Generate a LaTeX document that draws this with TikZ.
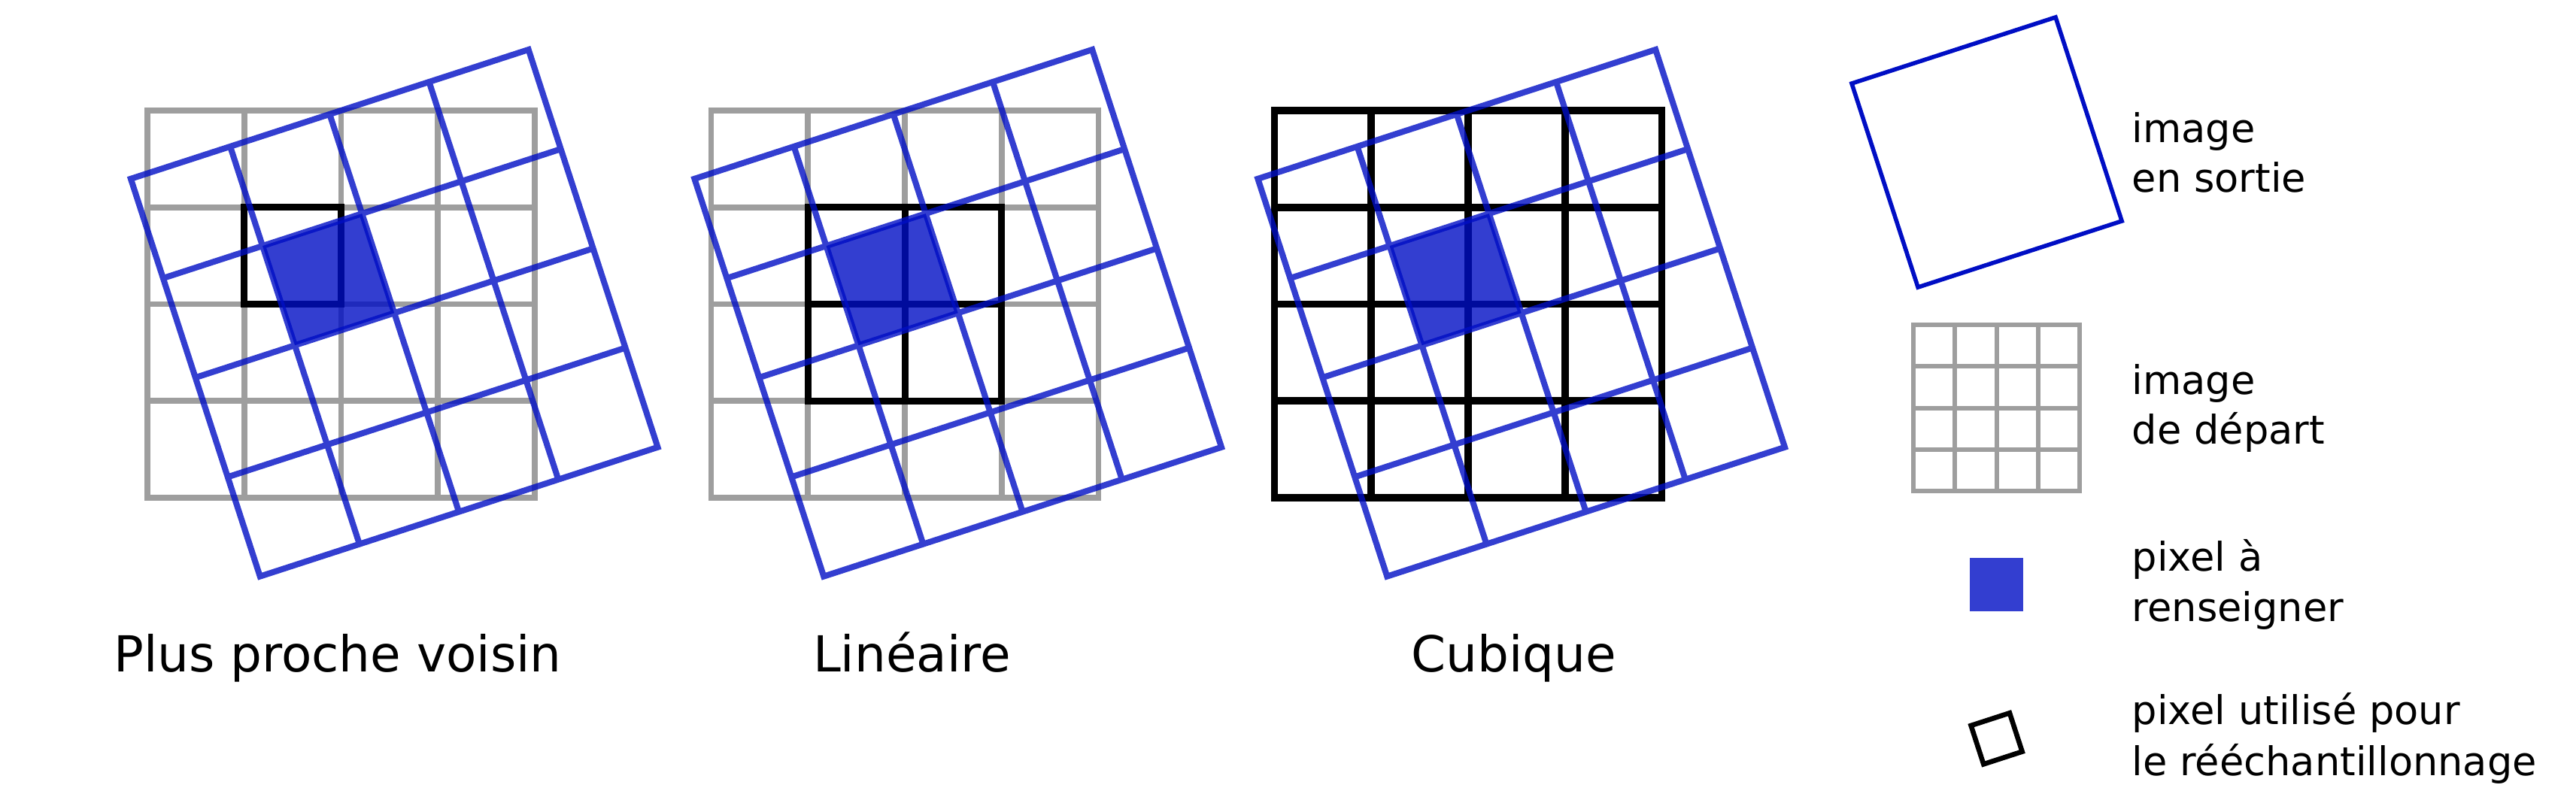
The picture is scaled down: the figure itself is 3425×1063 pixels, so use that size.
\documentclass[tikz,border=0pt]{standalone}
\usepackage{fontspec}
\setmainfont{DejaVu Sans}
\definecolor{outblue}{RGB}{0,14,196}
\definecolor{srcgray}{RGB}{158,158,158}
\tikzset{
  srcgrid/.style={draw=srcgray, line width=1.95pt},
  usedpx/.style={draw=black, line width=2.25pt},
  usedall/.style={draw=black, line width=2.4pt},
  outgrid/.style={draw=outblue, draw opacity=0.8, line width=2pt},
  targetpx/.style={fill=outblue, fill opacity=0.8},
  biglabel/.style={inner sep=0pt, anchor=base, font=\fontsize{16.5}{20}\selectfont},
  leglabel/.style={inner sep=0pt, anchor=base west, font=\fontsize{13.15}{16}\selectfont},
}
\begin{document}
\begin{tikzpicture}[x=0.25pt,y=-0.25pt]
\useasboundingbox (0,0) rectangle (3425,1063);

% ---------- Panel 1 : Plus proche voisin ----------
\begin{scope}
  \draw[srcgrid] (196,147) rectangle (711,662)
    foreach \k in {324.75,453.5,582.25}{(\k,147)--(\k,662)}
    foreach \k in {275.75,404.5,533.25}{(196,\k)--(711,\k)};
  \draw[usedpx] (324.75,275.75) rectangle (453.5,404.5);
  \begin{scope}[shift={(173.9,237.8)}, rotate=18]
    \fill[targetpx] (139,139) rectangle (278,278);
    \draw[outgrid] (0,0) rectangle (556,556)
      foreach \k in {139,278,417}{(\k,0)--(\k,556) (0,\k)--(556,\k)};
  \end{scope}
\end{scope}

% ---------- Panel 2 : Linéaire ----------
\begin{scope}[shift={(749.5,0)}]
  \draw[srcgrid] (196,147) rectangle (711,662)
    foreach \k in {324.75,453.5,582.25}{(\k,147)--(\k,662)}
    foreach \k in {275.75,404.5,533.25}{(196,\k)--(711,\k)};
  \draw[usedpx] (324.75,275.75) rectangle (582.25,533.25)
    (453.5,275.75)--(453.5,533.25) (324.75,404.5)--(582.25,404.5);
  \begin{scope}[shift={(173.9,237.8)}, rotate=18]
    \fill[targetpx] (139,139) rectangle (278,278);
    \draw[outgrid] (0,0) rectangle (556,556)
      foreach \k in {139,278,417}{(\k,0)--(\k,556) (0,\k)--(556,\k)};
  \end{scope}
\end{scope}

% ---------- Panel 3 : Cubique ----------
\begin{scope}[shift={(1498.5,0)}]
  \draw[usedall] (196,147) rectangle (711,662)
    foreach \k in {324.75,453.5,582.25}{(\k,147)--(\k,662)}
    foreach \k in {275.75,404.5,533.25}{(196,\k)--(711,\k)};
  \begin{scope}[shift={(173.9,237.8)}, rotate=18]
    \fill[targetpx] (139,139) rectangle (278,278);
    \draw[outgrid] (0,0) rectangle (556,556)
      foreach \k in {139,278,417}{(\k,0)--(\k,556) (0,\k)--(556,\k)};
  \end{scope}
\end{scope}

% ---------- Panel labels ----------
\node[biglabel] (lab1) at (449,893) {Plus proche voisin};
\node[biglabel] (lab2) at (1212.5,893) {Linéaire};
\node[biglabel] (lab3) at (2013,893) {Cubique};

% ---------- Legend ----------
\begin{scope}[shift={(2462,111)}, rotate=18]
  \draw[draw=outblue, line width=1.4pt] (0,0) rectangle (285,285);
\end{scope}
\draw[draw=srcgray, line width=1.5pt] (2544,432) rectangle (2765,653)
  foreach \k in {2599.25,2654.5,2709.75}{(\k,432)--(\k,653)}
  foreach \k in {487.25,542.5,597.75}{(2544,\k)--(2765,\k)};
\fill[targetpx] (2619,742) rectangle (2690,813);
\begin{scope}[shift={(2654.6,982.3)}, rotate=18]
  \draw[draw=black, line width=1.65pt] (-27,-27) rectangle (27,27);
\end{scope}

\node[leglabel] (t1a) at (2834,189) {image};
\node[leglabel] (t1b) at (2834,255) {en sortie};
\node[leglabel] (t2a) at (2834,524) {image};
\node[leglabel] (t2b) at (2834,590) {de départ};
\node[leglabel] (t3a) at (2834,759) {pixel à};
\node[leglabel] (t3b) at (2834,826) {renseigner};
\node[leglabel] (t4a) at (2834,963) {pixel utilisé pour};
\node[leglabel] (t4b) at (2834,1031) {le rééchantillonnage};
\end{tikzpicture}
\end{document}
